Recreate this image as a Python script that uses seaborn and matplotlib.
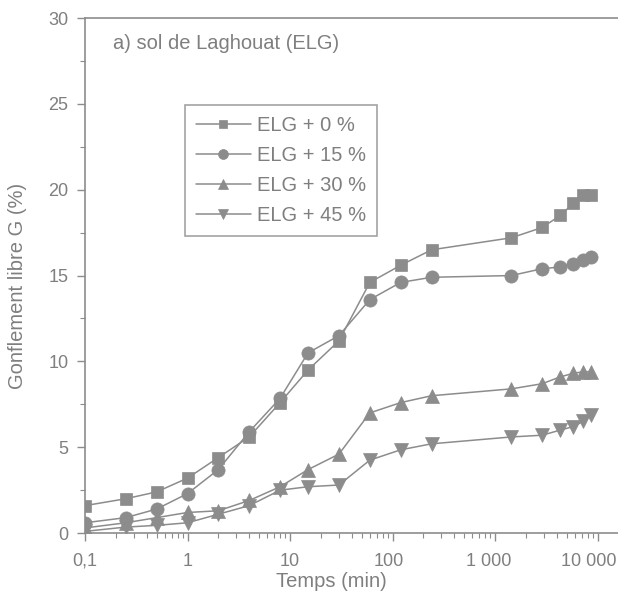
import numpy as np
import pandas as pd
import matplotlib
matplotlib.use("Agg")
import matplotlib.pyplot as plt
import matplotlib.transforms as mtransforms
import seaborn as sns
from matplotlib.ticker import FixedLocator, FuncFormatter, LogLocator, NullFormatter, MultipleLocator

sns.set_theme(style="ticks")
plt.rcParams['font.family'] = ['Liberation Sans', 'DejaVu Sans']

# ---- data ----
temps = [0.1, 0.25, 0.5, 1, 2, 4, 8, 15, 30, 60, 120, 240, 1440, 2880, 4320, 5760, 7200, 8640]
elg_0 = [1.6, 2.0, 2.4, 3.2, 4.4, 5.6, 7.6, 9.5, 11.2, 14.6, 15.6, 16.5, 17.2, 17.8, 18.5, 19.2, 19.7, 19.7]
elg_15 = [0.6, 0.9, 1.4, 2.3, 3.7, 5.9, 7.85, 10.5, 11.5, 13.6, 14.6, 14.9, 15.0, 15.4, 15.5, 15.7, 15.9, 16.1]
elg_30 = [0.3, 0.6, 0.9, 1.2, 1.3, 1.9, 2.7, 3.7, 4.6, 7.0, 7.6, 8.0, 8.4, 8.7, 9.1, 9.3, 9.4, 9.4]
elg_45 = [0.1, 0.35, 0.45, 0.6, 1.1, 1.6, 2.5, 2.7, 2.8, 4.25, 4.85, 5.2, 5.6, 5.7, 6.0, 6.2, 6.5, 6.9]
series_names = ["ELG + 0 %", "ELG + 15 %", "ELG + 30 %", "ELG + 45 %"]
series_values = [elg_0, elg_15, elg_30, elg_45]
x_ticks = [0.1, 1, 10, 100, 1000, 10000]
x_tick_labels = ["0,1", "1", "10", "100", "1 000", "10 000"]
y_ticks = [0, 5, 10, 15, 20, 25, 30]

rows = []
for name, vals in zip(series_names, series_values):
    for t, v in zip(temps, vals):
        rows.append({"Temps": t, "G": v, "serie": name})
df = pd.DataFrame(rows)

grey = "#8c8c8c"
txt = "#7f7f7f"
markers = {series_names[0]: "s", series_names[1]: "o", series_names[2]: "^", series_names[3]: "v"}
sizes = {"s": 8.5, "o": 9.5, "^": 10, "v": 10}

fig = plt.figure(figsize=(6.18, 6.01), dpi=100)
ax = fig.add_axes([0.1375, 0.113, 0.8625, 0.857])

for name in series_names:
    sub = df[df["serie"] == name]
    m = markers[name]
    sns.lineplot(data=sub, x="Temps", y="G", ax=ax, color=grey, marker=m,
                 markersize=sizes[m], markeredgecolor=grey, markeredgewidth=0.5,
                 linewidth=1.1, sort=False, label=name, estimator=None)

ax.set_xscale("log")
ax.set_xlim(0.1, 15800)
ax.set_ylim(0, 30)
ax.xaxis.set_major_locator(FixedLocator(x_ticks))
ax.xaxis.set_major_formatter(FuncFormatter(lambda v, p: x_tick_labels[x_ticks.index(v)] if v in x_ticks else ""))
ax.xaxis.set_minor_locator(LogLocator(base=10, subs=np.arange(2, 10)))
ax.xaxis.set_minor_formatter(NullFormatter())
ax.yaxis.set_major_locator(FixedLocator(y_ticks))
ax.yaxis.set_minor_locator(MultipleLocator(2.5))

for s in ["left", "bottom", "top"]:
    ax.spines[s].set_color(grey)
    ax.spines[s].set_linewidth(1.2)
ax.spines["right"].set_visible(False)
ax.tick_params(axis="both", which="major", direction="out", length=6, width=1.0,
               color=grey, labelcolor=txt, labelsize=13, pad=6)
ax.tick_params(axis="both", which="minor", direction="out", length=3.5, width=0.8, color=grey)
ax.tick_params(axis="x", which="major", pad=8)

ax.set_xlabel("Temps (min)", color=txt, fontsize=14.5)
ax.set_ylabel("Gonflement libre G (%)", color=txt, fontsize=14.5)
ax.xaxis.set_label_coords(0.463, -0.075)
ax.yaxis.set_label_coords(-0.108, 0.48)

ax.text(0.0525, 0.951, "a) sol de Laghouat (ELG)", transform=ax.transAxes,
        color=txt, fontsize=14.5, va="center", ha="left")

leg = ax.legend(loc="upper left", bbox_to_anchor=(0.188, 0.831), frameon=True,
                fancybox=False, fontsize=14.5, handlelength=2.7, borderpad=0.55,
                labelspacing=0.55, handletextpad=0.3, borderaxespad=0, markerscale=0.75)
leg.get_frame().set_edgecolor(grey)
leg.get_frame().set_linewidth(1.2)
for t in leg.get_texts():
    t.set_color(txt)

# small leftward nudges of the wide tick labels, as in the reference
fig.canvas.draw()
shifts = {"1 000": -6, "10 000": -9, "100": -4}
for lab in ax.get_xticklabels():
    s = lab.get_text()
    if s in shifts:
        off = mtransforms.ScaledTranslation(shifts[s] / 100.0, 0, fig.dpi_scale_trans)
        lab.set_transform(lab.get_transform() + off)

fig.savefig("out.png", dpi=100)
